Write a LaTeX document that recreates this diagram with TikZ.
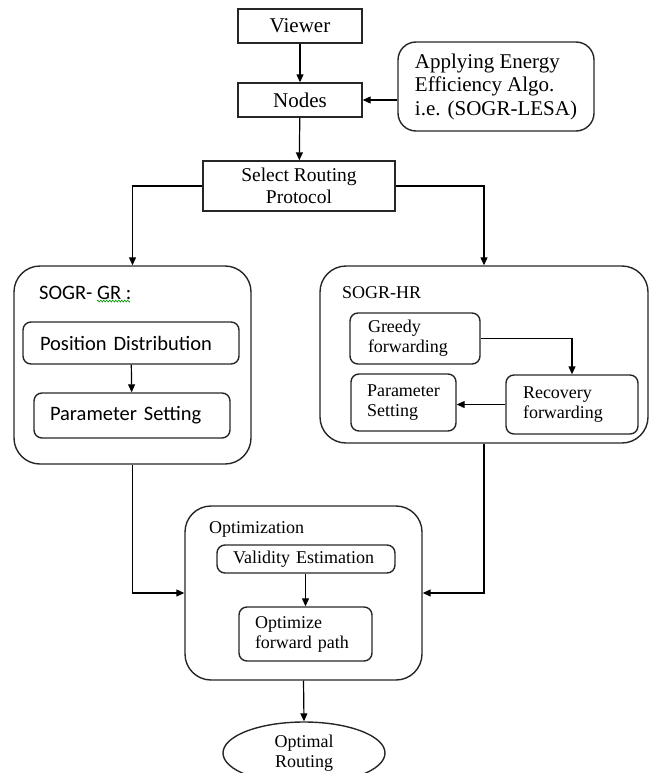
\documentclass[tikz,border=0pt]{standalone}
\usepackage{fontspec}
\setmainfont{Liberation Serif}
\newfontfamily\calibrifont{Carlito}
\usetikzlibrary{arrows.meta,decorations.pathmorphing,shapes.geometric}

\tikzset{
  box/.style={draw=black!85, line width=1.4pt, inner sep=0pt, align=center},
  rbox/.style={box, rounded corners=8pt, align=left},
  group/.style={draw=black!85, line width=1.4pt, rounded corners=26pt, inner sep=0pt},
  big/.style={font=\fontsize{21}{23.5}\selectfont},
  mid/.style={font=\fontsize{19.5}{22}\selectfont},
  small/.style={font=\fontsize{18}{20}\selectfont},
  sans/.style={font=\calibrifont\fontsize{20.5}{23}\selectfont},
  link/.style={line width=1.2pt, ->}
}

\begin{document}
\begin{tikzpicture}[x=1pt, y=-1pt, >={Triangle[length=8pt,width=7pt]}]
  \clip (0,0) rectangle (649,773);

  % top chain
  \node[box, big, minimum width=124pt, minimum height=34pt] (viewer) at (300,26) {Viewer};
  \node[box, big, minimum width=124pt, minimum height=34pt] (nodes) at (300,100) {Nodes};
  \node[box, big, rounded corners=18pt, align=left, minimum width=196pt,
        minimum height=89pt] (apply) at (496,86.5)
        {Applying Energy\\Efficiency Algo.\\i.e. (SOGR-LESA)};
  \node[box, mid, minimum width=192pt, minimum height=50pt] (select) at (299,186)
        {Select Routing\\Protocol};

  % SOGR-GR
  \node[group, minimum width=237pt, minimum height=198pt] (gr) at (132.5,365) {};
  \node[sans, anchor=west, inner sep=0pt] (grlabel) at (39,293) {SOGR- GR :};
  \draw[green!60!black, line width=0.6pt, decorate,
        decoration={zigzag, amplitude=1pt, segment length=3pt}] (97,301) -- (130,301);
  \node[rbox, sans, inner xsep=17pt, text width=182pt, minimum height=42pt] (posdist) at (131,343)
        {Position Distribution};
  \node[rbox, sans, inner xsep=16pt, text width=164pt, minimum height=45pt] (parsetgr) at (132,415.5)
        {Parameter Setting};

  % SOGR-HR
  \node[group, minimum width=328pt, minimum height=177pt] (hr) at (484,354.5) {};
  \node[small, anchor=west, inner sep=0pt] (hrlabel) at (342,293) {SOGR-HR};
  \node[rbox, small, inner xsep=18pt, text width=94pt, minimum height=51pt] (greedy) at (415,338.5)
        {Greedy\\forwarding};
  \node[rbox, small, inner xsep=17pt, text width=98pt, minimum height=59pt] (recovery) at (572,404.5)
        {Recovery\\forwarding};
  \node[rbox, small, inner xsep=16pt, text width=73pt, minimum height=57pt] (parsethr) at (403.5,402.5)
        {Parameter\\Setting};

  % Optimization
  \node[group, minimum width=237pt, minimum height=174pt] (opt) at (303.5,593) {};
  \node[small, anchor=west, inner sep=0pt] (optlabel) at (209,529) {Optimization};
  \node[rbox, small, inner xsep=16pt, text width=146pt, minimum height=28pt] (valid) at (306,559)
        {Validity Estimation};
  \node[rbox, small, inner xsep=16pt, text width=101pt, minimum height=54pt] (optpath) at (305.5,634)
        {Optimize\\forward path};

  \node[box, small, ellipse, minimum width=162pt, minimum height=62pt] (route) at (304,753)
        {Optimal\\Routing};

  % connectors
  \draw[link] (viewer) -- (nodes);
  \draw[link] (apply.west |- nodes) -- (nodes.east);
  \draw[link] (nodes) -- (select);
  \draw[link] (select.west) -| (gr.north);
  \draw[link] (select.east) -| (hr.north);
  \draw[link] (posdist) -- (parsetgr);
  \draw[link] (greedy.east) -| (recovery.north);
  \draw[link] (recovery.west) -- (recovery.west -| parsethr.east);
  \draw[link] (gr.south) |- (opt.west);
  \draw[link] (hr.south) |- (opt.east);
  \draw[link] (valid.south -| optpath.north) -- (optpath.north);
  \draw[link] (opt.south) -- (route.north);
\end{tikzpicture}
\end{document}
